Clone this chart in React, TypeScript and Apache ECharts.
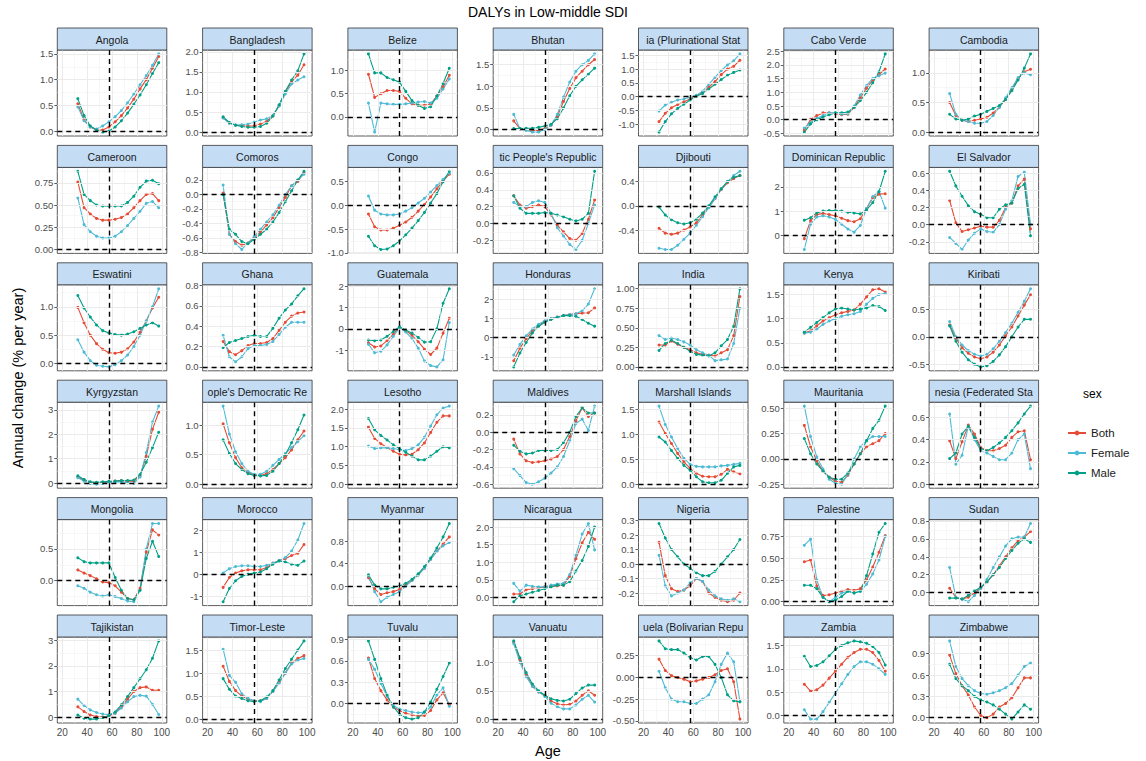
import React, { useEffect, useRef } from "react";
import * as echarts from "echarts";

const ages = [32.5, 37.5, 42.5, 47.5, 52.5, 57.5, 62.5, 67.5, 72.5, 77.5, 82.5, 87.5, 92.5, 97.5];
const xTicks = [20, 40, 60, 80, 100];
const xMinorTicks = [30, 50, 70, 90];
const refAge = 57.5;
const sexes = ["Both", "Female", "Male"];
const sexColors = ["#E64B35", "#4DBBD5", "#00A087"];

const countries = [
  "Angola", "Bangladesh", "Belize", "Bhutan", "ia (Plurinational Stat", "Cabo Verde", "Cambodia",
  "Cameroon", "Comoros", "Congo", "tic People's Republic", "Djibouti", "Dominican Republic", "El Salvador",
  "Eswatini", "Ghana", "Guatemala", "Honduras", "India", "Kenya", "Kiribati",
  "Kyrgyzstan", "ople's Democratic Re", "Lesotho", "Maldives", "Marshall Islands", "Mauritania", "nesia (Federated Sta",
  "Mongolia", "Morocco", "Myanmar", "Nicaragua", "Nigeria", "Palestine", "Sudan",
  "Tajikistan", "Timor-Leste", "Tuvalu", "Vanuatu", "uela (Bolivarian Repu", "Zambia", "Zimbabwe",
];

const yTickSteps = [
  0.5, 0.5, 0.5, 0.5, 0.5, 0.5, 0.5,
  0.25, 0.2, 0.5, 0.2, 0.4, 1, 0.2,
  0.5, 0.2, 1, 1, 0.25, 0.5, 0.5,
  1, 0.5, 0.5, 0.2, 0.5, 0.25, 0.2,
  0.5, 1, 0.4, 0.5, 0.1, 0.25, 0.2,
  1, 0.5, 0.3, 0.5, 0.25, 0.5, 0.3,
];

const bothValues = [
  [0.53, 0.22, 0.08, 0.02, 0.02, 0.08, 0.18, 0.30, 0.45, 0.62, 0.82, 1.00, 1.22, 1.45],
  [0.36, 0.23, 0.17, 0.16, 0.15, 0.16, 0.20, 0.27, 0.40, 0.66, 1.00, 1.25, 1.42, 1.68],
  [0.92, 0.42, 0.50, 0.57, 0.57, 0.55, 0.40, 0.28, 0.25, 0.25, 0.28, 0.45, 0.65, 0.90],
  [0.20, 0.02, 0.00, -0.02, -0.02, 0.02, 0.10, 0.30, 0.65, 0.95, 1.20, 1.35, 1.50, 1.62],
  [-0.90, -0.60, -0.40, -0.28, -0.18, -0.08, 0.03, 0.15, 0.35, 0.55, 0.80, 1.00, 1.10, 1.32],
  [-0.38, 0.02, 0.15, 0.25, 0.25, 0.22, 0.18, 0.20, 0.45, 0.80, 1.15, 1.45, 1.65, 1.85],
  [0.50, 0.28, 0.20, 0.18, 0.20, 0.22, 0.25, 0.32, 0.42, 0.55, 0.72, 0.90, 1.02, 1.06],
  [0.76, 0.47, 0.40, 0.35, 0.33, 0.33, 0.34, 0.36, 0.40, 0.47, 0.55, 0.62, 0.63, 0.55],
  [0.02, -0.55, -0.65, -0.70, -0.67, -0.60, -0.52, -0.42, -0.32, -0.18, -0.04, 0.12, 0.18, 0.30],
  [-0.18, -0.45, -0.52, -0.52, -0.48, -0.42, -0.35, -0.25, -0.12, 0.02, 0.18, 0.35, 0.52, 0.66],
  [0.33, 0.22, 0.18, 0.20, 0.22, 0.20, 0.10, -0.02, -0.10, -0.18, -0.20, -0.12, 0.05, 0.28],
  [-0.37, -0.45, -0.47, -0.45, -0.40, -0.35, -0.28, -0.15, -0.02, 0.12, 0.27, 0.38, 0.45, 0.50],
  [-0.15, 0.60, 0.85, 0.90, 0.85, 0.80, 0.70, 0.60, 0.55, 0.68, 1.10, 1.55, 1.70, 1.72],
  [0.28, 0.02, -0.08, -0.06, -0.04, -0.02, -0.03, -0.03, 0.05, 0.20, 0.25, 0.45, 0.53, -0.05],
  [0.99, 0.72, 0.50, 0.35, 0.25, 0.19, 0.18, 0.20, 0.26, 0.38, 0.55, 0.75, 0.98, 1.17],
  [0.25, 0.15, 0.12, 0.16, 0.21, 0.23, 0.23, 0.24, 0.28, 0.36, 0.44, 0.50, 0.53, 0.54],
  [-0.65, -0.85, -0.80, -0.55, -0.25, 0.08, -0.08, -0.30, -0.60, -0.95, -1.20, -0.90, -0.20, 0.50],
  [-1.20, -0.55, -0.05, 0.35, 0.65, 0.85, 0.98, 1.08, 1.15, 1.20, 1.25, 1.28, 1.30, 1.55],
  [0.28, 0.28, 0.33, 0.29, 0.25, 0.22, 0.18, 0.16, 0.15, 0.14, 0.18, 0.22, 0.40, 0.90],
  [0.70, 0.75, 0.85, 0.95, 1.02, 1.08, 1.12, 1.15, 1.18, 1.30, 1.45, 1.60, 1.62, 1.55],
  [0.22, -0.02, -0.20, -0.30, -0.37, -0.40, -0.37, -0.28, -0.15, 0.02, 0.18, 0.38, 0.58, 0.77],
  [0.25, 0.12, 0.03, 0.00, 0.02, 0.05, 0.08, 0.10, 0.08, 0.08, 0.30, 1.10, 2.20, 2.90],
  [1.02, 0.70, 0.45, 0.28, 0.20, 0.16, 0.15, 0.18, 0.25, 0.35, 0.45, 0.58, 0.75, 0.90],
  [1.52, 1.22, 1.08, 0.98, 0.88, 0.80, 0.78, 0.80, 0.92, 1.10, 1.38, 1.65, 1.82, 1.82],
  [-0.08, -0.25, -0.33, -0.35, -0.34, -0.33, -0.31, -0.28, -0.20, -0.05, 0.13, 0.28, 0.18, 0.22],
  [1.25, 1.02, 0.82, 0.62, 0.45, 0.32, 0.22, 0.16, 0.15, 0.15, 0.20, 0.30, 0.25, 0.21],
  [0.33, 0.12, -0.02, -0.12, -0.18, -0.22, -0.23, -0.16, -0.05, 0.05, 0.12, 0.15, 0.18, 0.25],
  [0.39, 0.23, 0.38, 0.53, 0.45, 0.33, 0.30, 0.30, 0.32, 0.35, 0.42, 0.47, 0.48, 0.22],
  [0.17, 0.12, 0.08, 0.03, -0.02, -0.03, -0.08, -0.18, -0.28, -0.30, -0.12, 0.45, 0.80, 0.72],
  [-0.60, -0.15, 0.05, 0.15, 0.20, 0.20, 0.20, 0.30, 0.50, 0.62, 0.70, 0.85, 0.95, 1.35],
  [0.15, -0.05, -0.15, -0.12, -0.10, -0.06, 0.02, 0.10, 0.20, 0.32, 0.48, 0.62, 0.75, 0.88],
  [0.10, 0.10, 0.22, 0.25, 0.27, 0.30, 0.32, 0.33, 0.35, 0.60, 1.10, 1.55, 1.85, 1.65],
  [0.15, -0.08, -0.17, -0.19, -0.18, -0.15, -0.10, -0.12, -0.20, -0.23, -0.25, -0.26, -0.25, -0.20],
  [0.46, 0.48, 0.18, 0.07, 0.08, 0.10, 0.12, 0.14, 0.13, 0.15, 0.25, 0.40, 0.57, 0.76],
  [0.05, -0.05, -0.07, -0.05, 0.00, 0.05, 0.12, 0.20, 0.30, 0.40, 0.50, 0.58, 0.62, 0.68],
  [0.40, 0.22, 0.08, 0.02, 0.00, 0.05, 0.15, 0.40, 0.70, 1.00, 1.15, 1.18, 1.05, 1.05],
  [1.15, 0.82, 0.62, 0.50, 0.43, 0.40, 0.40, 0.45, 0.60, 0.80, 1.00, 1.22, 1.32, 1.38],
  [0.64, 0.35, 0.18, 0.05, -0.05, -0.10, -0.14, -0.16, -0.18, -0.17, -0.10, 0.05, 0.15, -0.02],
  [1.36, 1.05, 0.78, 0.58, 0.48, 0.42, 0.32, 0.27, 0.25, 0.26, 0.32, 0.42, 0.50, 0.42],
  [0.21, 0.08, 0.02, 0.00, -0.02, -0.05, -0.04, -0.02, 0.00, 0.03, 0.08, 0.10, -0.05, -0.48],
  [0.67, 0.52, 0.55, 0.65, 0.80, 0.95, 1.10, 1.25, 1.35, 1.42, 1.42, 1.35, 1.18, 0.95],
  [0.88, 0.62, 0.45, 0.32, 0.15, 0.03, 0.00, 0.05, 0.15, 0.20, 0.28, 0.42, 0.56, 0.56],
];

const femaleValues = [
  [0.47, 0.20, 0.08, 0.04, 0.10, 0.18, 0.28, 0.40, 0.55, 0.72, 0.90, 1.08, 1.28, 1.50],
  [0.35, 0.22, 0.18, 0.18, 0.20, 0.25, 0.30, 0.33, 0.42, 0.65, 0.95, 1.20, 1.30, 1.38],
  [0.30, -0.33, 0.30, 0.28, 0.27, 0.27, 0.28, 0.30, 0.32, 0.33, 0.30, 0.40, 0.60, 0.82],
  [0.35, 0.02, -0.02, -0.06, -0.06, 0.00, 0.10, 0.35, 0.75, 1.10, 1.35, 1.50, 1.60, 1.75],
  [-0.52, -0.30, -0.20, -0.12, -0.08, -0.02, 0.05, 0.20, 0.45, 0.70, 0.95, 1.15, 1.30, 1.55],
  [-0.30, -0.10, 0.05, 0.15, 0.25, 0.25, 0.20, 0.22, 0.50, 0.90, 1.25, 1.50, 1.60, 1.70],
  [0.65, 0.30, 0.20, 0.18, 0.15, 0.15, 0.18, 0.28, 0.42, 0.58, 0.75, 0.92, 1.00, 0.97],
  [0.58, 0.28, 0.20, 0.15, 0.13, 0.13, 0.15, 0.20, 0.27, 0.35, 0.43, 0.52, 0.54, 0.47],
  [0.13, -0.55, -0.68, -0.76, -0.67, -0.58, -0.48, -0.38, -0.28, -0.15, 0.00, 0.12, 0.20, 0.28],
  [0.20, -0.10, -0.18, -0.20, -0.20, -0.18, -0.12, -0.05, 0.05, 0.15, 0.28, 0.42, 0.55, 0.68],
  [0.25, 0.20, 0.20, 0.25, 0.27, 0.25, 0.12, -0.05, -0.15, -0.25, -0.31, -0.20, 0.00, 0.22],
  [-0.70, -0.72, -0.72, -0.65, -0.55, -0.45, -0.32, -0.18, -0.03, 0.12, 0.28, 0.40, 0.50, 0.57],
  [-0.60, 0.45, 0.75, 0.80, 0.75, 0.65, 0.45, 0.25, 0.12, 0.40, 1.10, 1.60, 1.82, 1.12],
  [-0.15, -0.22, -0.29, -0.18, -0.10, -0.05, -0.08, -0.09, 0.00, 0.18, 0.28, 0.56, 0.61, 0.00],
  [0.42, 0.20, 0.05, -0.03, -0.05, -0.06, -0.02, 0.05, 0.15, 0.30, 0.50, 0.75, 1.00, 1.32],
  [0.31, 0.10, 0.05, 0.10, 0.18, 0.21, 0.21, 0.22, 0.25, 0.32, 0.39, 0.44, 0.44, 0.44],
  [-0.72, -1.12, -1.05, -0.75, -0.35, 0.05, -0.15, -0.45, -0.90, -1.50, -1.72, -1.78, -1.45, 0.30],
  [-0.90, -0.35, 0.10, 0.45, 0.70, 0.88, 1.00, 1.08, 1.15, 1.20, 1.25, 1.40, 1.75, 2.55],
  [0.40, 0.35, 0.37, 0.35, 0.32, 0.28, 0.22, 0.18, 0.15, 0.08, 0.09, 0.10, 0.30, 0.75],
  [0.70, 0.72, 0.78, 0.88, 0.95, 1.00, 1.05, 1.08, 1.10, 1.15, 1.30, 1.42, 1.50, 1.52],
  [0.28, 0.00, -0.15, -0.25, -0.32, -0.35, -0.32, -0.22, -0.08, 0.08, 0.25, 0.45, 0.65, 0.88],
  [0.22, 0.08, -0.02, -0.05, -0.02, 0.02, 0.05, 0.05, 0.00, -0.02, 0.25, 1.25, 2.50, 3.15],
  [1.32, 0.85, 0.55, 0.35, 0.22, 0.17, 0.17, 0.22, 0.32, 0.42, 0.52, 0.62, 0.72, 0.82],
  [1.02, 0.95, 0.97, 0.97, 0.95, 0.92, 0.90, 0.95, 1.05, 1.25, 1.55, 1.85, 2.03, 2.08],
  [-0.42, -0.50, -0.58, -0.60, -0.57, -0.53, -0.47, -0.40, -0.28, -0.10, 0.10, 0.15, 0.02, 0.30],
  [1.57, 1.20, 0.95, 0.72, 0.52, 0.40, 0.36, 0.35, 0.35, 0.35, 0.37, 0.38, 0.40, 0.42],
  [0.52, 0.22, 0.02, -0.10, -0.20, -0.24, -0.25, -0.15, 0.00, 0.12, 0.18, 0.22, 0.22, 0.22],
  [0.63, 0.18, 0.26, 0.52, 0.40, 0.30, 0.28, 0.25, 0.22, 0.22, 0.28, 0.40, 0.45, 0.14],
  [-0.08, -0.12, -0.18, -0.22, -0.24, -0.22, -0.25, -0.28, -0.32, -0.33, -0.15, 0.50, 0.90, 0.90],
  [0.05, 0.25, 0.35, 0.38, 0.38, 0.35, 0.35, 0.40, 0.50, 0.62, 0.75, 1.05, 1.55, 2.30],
  [0.18, -0.10, -0.28, -0.20, -0.15, -0.10, 0.00, 0.10, 0.20, 0.32, 0.48, 0.62, 0.72, 0.78],
  [0.40, 0.18, 0.35, 0.32, 0.30, 0.30, 0.35, 0.38, 0.40, 0.65, 1.20, 1.80, 2.10, 1.35],
  [0.06, -0.15, -0.22, -0.20, -0.18, -0.13, -0.10, -0.12, -0.18, -0.22, -0.24, -0.25, -0.24, -0.26],
  [0.65, 0.72, 0.25, 0.05, 0.00, 0.05, 0.10, 0.12, 0.10, 0.12, 0.20, 0.32, 0.48, 0.75],
  [0.28, -0.05, -0.07, -0.10, -0.03, 0.05, 0.15, 0.28, 0.40, 0.52, 0.60, 0.62, 0.62, 0.77],
  [0.70, 0.45, 0.28, 0.18, 0.12, 0.10, 0.15, 0.35, 0.60, 0.80, 0.85, 0.82, 0.50, 0.10],
  [1.52, 0.95, 0.80, 0.55, 0.45, 0.40, 0.38, 0.45, 0.60, 0.78, 1.00, 1.20, 1.28, 1.32],
  [0.62, 0.48, 0.28, 0.10, -0.03, -0.08, -0.10, -0.12, -0.13, -0.12, -0.05, 0.12, 0.22, -0.04],
  [1.33, 1.00, 0.75, 0.58, 0.48, 0.40, 0.28, 0.22, 0.18, 0.18, 0.25, 0.35, 0.42, 0.30],
  [0.07, -0.12, -0.25, -0.28, -0.28, -0.30, -0.30, -0.25, -0.20, -0.05, 0.15, 0.28, 0.18, -0.28],
  [0.12, -0.08, -0.08, 0.08, 0.28, 0.48, 0.68, 0.88, 1.05, 1.15, 1.15, 1.10, 1.00, 0.88],
  [1.08, 0.72, 0.55, 0.45, 0.38, 0.34, 0.33, 0.35, 0.38, 0.42, 0.48, 0.60, 0.72, 0.77],
];

const maleValues = [
  [0.63, 0.30, 0.10, 0.02, -0.02, 0.00, 0.08, 0.20, 0.35, 0.52, 0.70, 0.90, 1.12, 1.33],
  [0.38, 0.24, 0.17, 0.14, 0.12, 0.12, 0.14, 0.22, 0.40, 0.68, 1.02, 1.30, 1.53, 1.95],
  [1.36, 0.95, 0.95, 0.85, 0.80, 0.75, 0.55, 0.35, 0.25, 0.18, 0.22, 0.45, 0.72, 1.05],
  [0.02, 0.02, 0.03, 0.03, 0.05, 0.08, 0.12, 0.25, 0.50, 0.78, 1.00, 1.15, 1.28, 1.42],
  [-1.28, -0.90, -0.62, -0.42, -0.27, -0.12, 0.02, 0.12, 0.28, 0.45, 0.62, 0.78, 0.88, 0.97],
  [-0.45, -0.15, 0.00, 0.10, 0.18, 0.25, 0.25, 0.28, 0.45, 0.70, 1.00, 1.35, 1.75, 2.40],
  [0.30, 0.22, 0.20, 0.22, 0.27, 0.30, 0.35, 0.40, 0.45, 0.55, 0.70, 0.88, 1.08, 1.32],
  [0.88, 0.62, 0.55, 0.50, 0.49, 0.49, 0.49, 0.49, 0.53, 0.60, 0.70, 0.77, 0.78, 0.74],
  [0.00, -0.48, -0.55, -0.65, -0.68, -0.62, -0.55, -0.48, -0.38, -0.25, -0.10, 0.05, 0.20, 0.32],
  [-0.65, -0.85, -0.93, -0.92, -0.85, -0.75, -0.62, -0.48, -0.32, -0.15, 0.05, 0.25, 0.50, 0.72],
  [0.33, 0.18, 0.12, 0.12, 0.12, 0.13, 0.12, 0.10, 0.08, 0.05, 0.03, 0.05, 0.12, 0.62],
  [-0.02, -0.15, -0.23, -0.28, -0.30, -0.28, -0.22, -0.12, 0.00, 0.15, 0.28, 0.40, 0.47, 0.50],
  [0.62, 0.72, 0.92, 1.00, 1.02, 1.02, 1.00, 0.95, 0.92, 0.88, 1.05, 1.35, 1.80, 2.65],
  [0.62, 0.45, 0.33, 0.22, 0.15, 0.12, 0.08, 0.08, 0.18, 0.23, 0.25, 0.42, 0.47, -0.13],
  [1.20, 0.98, 0.82, 0.68, 0.58, 0.54, 0.51, 0.50, 0.52, 0.56, 0.62, 0.68, 0.72, 0.66],
  [0.19, 0.24, 0.26, 0.28, 0.30, 0.31, 0.30, 0.30, 0.38, 0.48, 0.56, 0.62, 0.70, 0.77],
  [-0.52, -0.55, -0.52, -0.35, -0.12, 0.10, -0.05, -0.20, -0.40, -0.62, -0.60, 0.00, 1.20, 1.88],
  [-1.52, -0.80, -0.25, 0.25, 0.60, 0.80, 0.95, 1.05, 1.15, 1.15, 1.12, 0.95, 0.75, 0.60],
  [0.21, 0.30, 0.34, 0.30, 0.25, 0.20, 0.16, 0.15, 0.14, 0.18, 0.27, 0.35, 0.52, 1.00],
  [0.72, 0.82, 0.92, 1.02, 1.12, 1.20, 1.22, 1.20, 1.18, 1.20, 1.22, 1.27, 1.25, 1.17],
  [0.20, -0.08, -0.28, -0.42, -0.50, -0.55, -0.53, -0.45, -0.33, -0.18, 0.00, 0.18, 0.32, 0.32],
  [0.30, 0.15, 0.05, 0.03, 0.05, 0.07, 0.08, 0.10, 0.10, 0.12, 0.35, 0.85, 1.45, 2.08],
  [0.75, 0.52, 0.35, 0.25, 0.18, 0.15, 0.14, 0.15, 0.22, 0.35, 0.50, 0.70, 0.92, 1.17],
  [1.75, 1.45, 1.30, 1.18, 1.05, 0.95, 0.85, 0.75, 0.65, 0.65, 0.75, 0.88, 1.00, 0.97],
  [-0.15, -0.22, -0.25, -0.24, -0.21, -0.21, -0.21, -0.20, -0.12, 0.00, 0.18, 0.28, 0.22, 0.22],
  [0.95, 0.85, 0.68, 0.52, 0.38, 0.28, 0.15, 0.05, 0.03, 0.03, 0.08, 0.22, 0.35, 0.38],
  [0.20, 0.05, -0.05, -0.12, -0.18, -0.20, -0.20, -0.14, -0.05, 0.05, 0.18, 0.30, 0.38, 0.52],
  [0.23, 0.28, 0.45, 0.52, 0.42, 0.32, 0.30, 0.33, 0.37, 0.42, 0.48, 0.55, 0.63, 0.70],
  [0.36, 0.30, 0.28, 0.28, 0.28, 0.28, 0.05, -0.15, -0.28, -0.30, -0.15, 0.35, 0.62, 0.38],
  [-1.25, -0.65, -0.30, -0.10, 0.00, 0.05, 0.10, 0.25, 0.45, 0.60, 0.55, 0.45, 0.40, 0.60],
  [0.20, 0.02, -0.05, -0.05, -0.02, 0.00, 0.05, 0.12, 0.22, 0.35, 0.50, 0.68, 0.88, 1.12],
  [-0.12, 0.05, 0.10, 0.15, 0.20, 0.25, 0.30, 0.35, 0.35, 0.45, 0.75, 1.05, 1.45, 2.00],
  [0.28, 0.18, 0.10, 0.05, 0.00, -0.03, -0.06, -0.08, -0.08, -0.05, 0.00, 0.05, 0.10, 0.17],
  [0.19, 0.19, 0.15, 0.05, 0.00, 0.02, 0.06, 0.12, 0.10, 0.12, 0.30, 0.55, 0.80, 0.90],
  [-0.06, -0.06, -0.07, -0.03, 0.02, 0.06, 0.12, 0.20, 0.28, 0.38, 0.47, 0.55, 0.60, 0.56],
  [0.08, -0.05, -0.08, -0.08, -0.02, 0.05, 0.20, 0.48, 0.80, 1.15, 1.50, 1.85, 2.30, 2.98],
  [0.88, 0.65, 0.50, 0.45, 0.40, 0.38, 0.40, 0.48, 0.62, 0.85, 1.10, 1.30, 1.50, 1.70],
  [0.88, 0.62, 0.35, 0.12, -0.05, -0.15, -0.20, -0.22, -0.20, -0.12, 0.02, 0.20, 0.38, 0.57],
  [1.38, 1.08, 0.82, 0.62, 0.50, 0.42, 0.36, 0.33, 0.32, 0.35, 0.45, 0.55, 0.60, 0.60],
  [0.42, 0.33, 0.32, 0.32, 0.28, 0.23, 0.20, 0.24, 0.24, 0.15, 0.00, -0.20, -0.27, -0.28],
  [1.27, 1.05, 1.07, 1.15, 1.28, 1.42, 1.50, 1.56, 1.60, 1.58, 1.55, 1.48, 1.35, 1.08],
  [0.75, 0.55, 0.45, 0.38, 0.30, 0.25, 0.22, 0.18, 0.12, 0.05, -0.02, 0.08, 0.18, 0.12],
];

const FONT = "'Liberation Sans', Arial, Helvetica, sans-serif";
const COL_X0 = 57.3;
const COL_PITCH = 145.3;
const PANEL_W = 109.5;
const ROW_Y0 = 28;
const ROW_PITCH = 117.4;
const STRIP_H = 22;
const PANEL_H = 86;
const X_MIN = 16;
const X_MAX = 104;

export default function App() {
  const ref = useRef<HTMLDivElement>(null);

  useEffect(() => {
    if (!ref.current) return;
    const chart = echarts.init(ref.current, null, { renderer: "svg" });
    const grids: any[] = [];
    const xAxes: any[] = [];
    const yAxes: any[] = [];
    const series: any[] = [];
    const graphics: any[] = [];
    const valueSets = [bothValues, femaleValues, maleValues];

    countries.forEach((name, i) => {
      const r = Math.floor(i / 7);
      const c = i % 7;
      const left = COL_X0 + c * COL_PITCH;
      const stripTop = ROW_Y0 + r * ROW_PITCH;
      const top = stripTop + STRIP_H;
      const all = [0, ...bothValues[i], ...femaleValues[i], ...maleValues[i]];
      const lo = Math.min(...all);
      const hi = Math.max(...all);
      const pad = (hi - lo) * 0.05;
      const yMin = lo - pad;
      const yMax = hi + pad;
      const step = yTickSteps[i];
      const dec = step >= 1 ? 0 : (String(step).split(".")[1] || "").length;
      const ticks: number[] = [];
      for (let k = Math.ceil(yMin / step - 1e-9); k * step <= yMax + 1e-9; k++) {
        ticks.push(+(k * step).toFixed(6));
      }
      const minor: number[] = [];
      for (let k = Math.floor(yMin / step) - 1; k * step <= yMax; k++) {
        const v = +((k + 0.5) * step).toFixed(6);
        if (v > yMin && v < yMax) minor.push(v);
      }
      const isBottom = r === 5;

      grids.push({
        left,
        top,
        width: PANEL_W,
        height: PANEL_H,
        show: true,
        backgroundColor: "#FFFFFF",
        borderColor: "#333333",
        borderWidth: 0.8,
      });
      xAxes.push({
        type: "value",
        gridIndex: i,
        min: X_MIN,
        max: X_MAX,
        splitLine: { show: false },
        axisLine: { show: false },
        axisTick: {
          show: isBottom,
          length: 3,
          customValues: xTicks,
          lineStyle: { color: "#333333", width: 0.8 },
        },
        axisLabel: {
          show: isBottom,
          customValues: xTicks,
          fontSize: 10,
          color: "#4D4D4D",
          margin: 4,
          fontFamily: FONT,
        },
      });
      yAxes.push({
        type: "value",
        gridIndex: i,
        min: yMin,
        max: yMax,
        splitLine: { show: false },
        axisLine: { show: false },
        axisTick: {
          show: true,
          length: 3,
          customValues: ticks,
          lineStyle: { color: "#333333", width: 0.8 },
        },
        axisLabel: {
          customValues: ticks,
          fontSize: 9.5,
          color: "#4D4D4D",
          margin: 4,
          fontFamily: FONT,
          formatter: (v: number) => v.toFixed(dec),
        },
      });

      const gridLines: any[] = [];
      minor.forEach((v) =>
        gridLines.push({ yAxis: v, lineStyle: { color: "#F2F2F2", width: 0.6, type: "solid" } })
      );
      xMinorTicks.forEach((v) =>
        gridLines.push({ xAxis: v, lineStyle: { color: "#F2F2F2", width: 0.6, type: "solid" } })
      );
      ticks.forEach((v) =>
        gridLines.push({ yAxis: v, lineStyle: { color: "#EBEBEB", width: 1, type: "solid" } })
      );
      xTicks.forEach((v) =>
        gridLines.push({ xAxis: v, lineStyle: { color: "#EBEBEB", width: 1, type: "solid" } })
      );
      series.push({
        type: "line",
        name: "grid" + i,
        xAxisIndex: i,
        yAxisIndex: i,
        data: [],
        silent: true,
        z: 1,
        markLine: {
          silent: true,
          symbol: ["none", "none"],
          label: { show: false },
          animation: false,
          data: gridLines,
        },
      });

      valueSets.forEach((vals, s) => {
        series.push({
          type: "line",
          name: sexes[s],
          xAxisIndex: i,
          yAxisIndex: i,
          data: ages.map((a, j) => [a, vals[i][j]]),
          symbol: "circle",
          symbolSize: 3,
          showSymbol: true,
          color: sexColors[s],
          lineStyle: { color: sexColors[s], width: 1.1 },
          itemStyle: { color: sexColors[s] },
          z: 2,
          silent: true,
        });
      });

      series.push({
        type: "line",
        name: "ref" + i,
        xAxisIndex: i,
        yAxisIndex: i,
        data: [],
        silent: true,
        z: 3,
        markLine: {
          silent: true,
          symbol: ["none", "none"],
          label: { show: false },
          animation: false,
          lineStyle: { color: "#000000", width: 1.4, type: [5, 4] },
          data: [{ xAxis: refAge }, { yAxis: 0 }],
        },
      });

      graphics.push({
        type: "rect",
        shape: { x: left, y: stripTop, width: PANEL_W, height: STRIP_H },
        style: { fill: "#C4DDF5", stroke: "#333333", lineWidth: 0.8 },
        z: 10,
      });
      graphics.push({
        type: "text",
        x: left + PANEL_W / 2,
        y: stripTop + STRIP_H / 2 + 0.5,
        style: {
          text: name,
          fontSize: 10.5,
          fontFamily: FONT,
          fill: "#1A1A1A",
          textAlign: "center",
          textVerticalAlign: "middle",
        },
        z: 11,
      });
    });

    graphics.push({
      type: "text",
      x: 548,
      y: 12,
      style: {
        text: "DALYs in Low-middle SDI",
        fontSize: 14,
        fontFamily: FONT,
        fill: "#000000",
        textAlign: "center",
        textVerticalAlign: "middle",
      },
    });
    graphics.push({
      type: "text",
      x: 548,
      y: 751,
      style: {
        text: "Age",
        fontSize: 14.5,
        fontFamily: FONT,
        fill: "#000000",
        textAlign: "center",
        textVerticalAlign: "middle",
      },
    });
    graphics.push({
      type: "text",
      x: 18,
      y: 378,
      rotation: Math.PI / 2,
      style: {
        text: "Annual change (% per year)",
        fontSize: 14.5,
        fontFamily: FONT,
        fill: "#000000",
        textAlign: "center",
        textVerticalAlign: "middle",
      },
    });
    graphics.push({
      type: "text",
      x: 1083,
      y: 394,
      style: {
        text: "sex",
        fontSize: 12,
        fontFamily: FONT,
        fill: "#000000",
        textAlign: "left",
        textVerticalAlign: "middle",
      },
    });

    chart.setOption({
      animation: false,
      backgroundColor: "#FFFFFF",
      textStyle: { fontFamily: FONT },
      grid: grids,
      xAxis: xAxes,
      yAxis: yAxes,
      series,
      graphic: graphics,
      legend: {
        data: sexes,
        orient: "vertical",
        left: 1062,
        top: 422,
        itemWidth: 18,
        itemHeight: 6,
        itemGap: 8,
        selectedMode: false,
        textStyle: { fontSize: 11.5, color: "#1A1A1A", fontFamily: FONT },
      },
    });

    return () => {
      chart.dispose();
    };
  }, []);

  return (
    <div
      ref={ref}
      style={{ position: "fixed", left: 0, top: 0, width: 1146, height: 761, background: "#FFFFFF" }}
    />
  );
}
